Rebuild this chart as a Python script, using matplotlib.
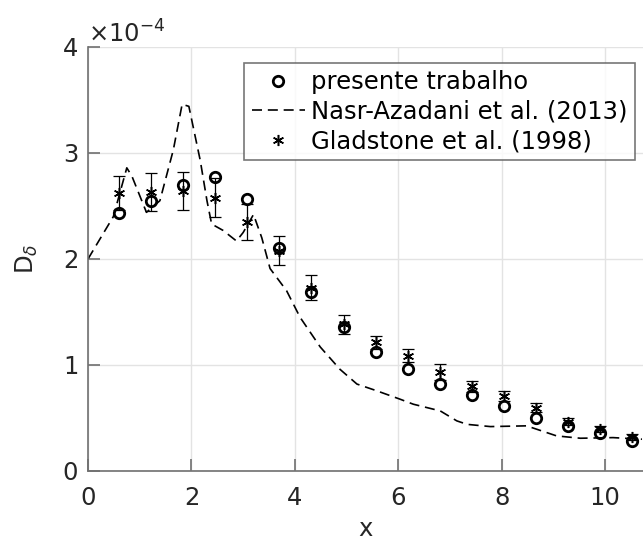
import numpy as np
import matplotlib.pyplot as plt
from matplotlib.ticker import ScalarFormatter

# presente trabalho
x_pres = [0.6, 1.22, 1.84, 2.46, 3.08, 3.7, 4.32, 4.94, 5.56, 6.18, 6.8,
          7.42, 8.04, 8.66, 9.28, 9.9, 10.52]
d_pres = [2.43, 2.55, 2.695, 2.77, 2.57, 2.10, 1.69, 1.355, 1.12, 0.962, 0.82,
          0.72, 0.615, 0.50, 0.42, 0.356, 0.284]

# Gladstone et al. (1998), with error bars
d_glad = [2.62, 2.63, 2.64, 2.58, 2.35, 2.08, 1.73, 1.384, 1.213, 1.087, 0.93,
          0.80, 0.709, 0.599, 0.466, 0.394, 0.32]
e_glad = [0.16, 0.18, 0.18, 0.18, 0.17, 0.14, 0.115, 0.09, 0.065, 0.06, 0.075,
          0.05, 0.05, 0.04, 0.033, 0.03, 0.025]

# Nasr-Azadani et al. (2013)
x_nasr = [0, 0.49, 0.75, 0.85, 1.13, 1.39, 1.65, 1.82, 1.95, 2.17, 2.3, 2.39,
          2.61, 2.87, 3.0, 3.2, 3.36, 3.52, 3.84, 4.1, 4.49, 4.87, 5.2, 5.58,
          6.03, 6.29, 6.81, 7.13, 7.33, 7.78, 8.48, 9.06, 9.52, 10.15, 10.71]
d_nasr = [2.0, 2.4, 2.86, 2.78, 2.44, 2.55, 3.03, 3.46, 3.44, 2.93, 2.55, 2.33,
          2.27, 2.17, 2.25, 2.42, 2.2, 1.91, 1.70, 1.45, 1.17, 0.96, 0.82, 0.757,
          0.678, 0.63, 0.567, 0.473, 0.44, 0.419, 0.426, 0.331, 0.309, 0.315, 0.30]

scale = 1e-4
gray = '#262626'
fs = 17.5

fig = plt.figure(figsize=(6.43, 5.44), dpi=100)
ax = fig.add_axes([88 / 643, 73 / 544, 1 - 88 / 643, 424 / 544])

ax.errorbar(x_pres, np.array(d_glad) * scale, yerr=np.array(e_glad) * scale,
            fmt='none', ecolor='k', elinewidth=0.9, capsize=4, capthick=0.9, zorder=3)
ax.plot(x_pres, np.array(d_pres) * scale, 'o', mfc='none', mec='k', mew=2,
        ms=7.5, label='presente trabalho', zorder=4)
ax.plot(x_nasr, np.array(d_nasr) * scale, '--', color='k', lw=1.2,
        dashes=(6, 3.5), label='Nasr-Azadani et al. (2013)', zorder=2)
ax.plot(x_pres, np.array(d_glad) * scale, ls='none', marker=(6, 2, 0),
        color='k', mew=1.1, ms=8, label='Gladstone et al. (1998)', zorder=5)

ax.set_xlim(0, 10.73)
ax.set_ylim(0, 4e-4)
ax.set_xticks([0, 2, 4, 6, 8, 10])
ax.set_yticks(np.arange(0, 5) * 1e-4)
fmt = ScalarFormatter(useMathText=True)
fmt.set_powerlimits((0, 0))
ax.yaxis.set_major_formatter(fmt)
ax.yaxis.get_offset_text().set_fontsize(fs)
ax.yaxis.get_offset_text().set_color(gray)

ax.grid(True, color='#e3e3e3', lw=1)
ax.set_axisbelow(True)
ax.tick_params(direction='in', length=8.5, width=1.2, labelsize=fs,
               colors=gray)
ax.tick_params(axis='x', pad=11)
ax.tick_params(axis='y', pad=7)
ax.tick_params(color='#707070')
ax.spines['top'].set_visible(False)
ax.spines['right'].set_visible(False)
for s in ['left', 'bottom']:
    ax.spines[s].set_color('#707070')
    ax.spines[s].set_linewidth(1.2)

ax.set_xlabel('x', fontsize=fs, color=gray, labelpad=5)
ax.set_ylabel(r'D$_\delta$', fontsize=fs, color=gray, labelpad=16)

leg = ax.legend(loc='upper right', bbox_to_anchor=(0.9856, 0.962), fontsize=fs,
                frameon=True, fancybox=False, edgecolor='#555555',
                handlelength=2.2, handletextpad=0.25, borderpad=0.3,
                labelspacing=0.22, borderaxespad=0)
leg.get_frame().set_linewidth(1.2)

fig.savefig('out.png', dpi=100)
